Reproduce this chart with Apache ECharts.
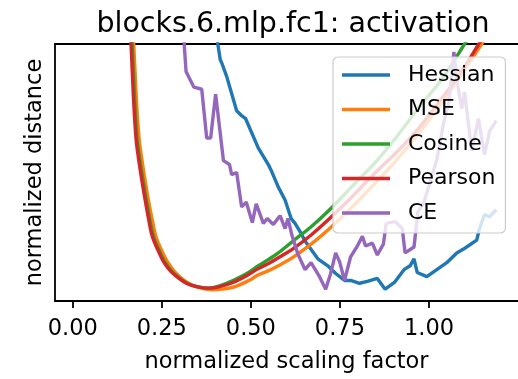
<!DOCTYPE html>
<html><head><meta charset="utf-8">
<script src="https://cdn.jsdelivr.net/npm/echarts@6/dist/echarts.min.js"></script>
<style>html,body{margin:0;padding:0;background:#fff}#c{width:518px;height:379px}</style>
</head><body><div id="c"></div>
<script>
var titleText = 'blocks.6.mlp.fc1: activation';
var xName = 'normalized scaling factor';
var yName = 'normalized distance';
var tickValues = [0, 0.25, 0.5, 0.75, 1.0];
var tickLabels = ['0.00', '0.25', '0.50', '0.75', '1.00'];
var seriesNames = ['Hessian', 'MSE', 'Cosine', 'Pearson', 'CE'];

var hessianX = [0.405,0.414,0.418,0.432,0.460,0.474,0.485,0.521,0.549,0.557,0.577,0.596,0.613,0.624,0.641,0.652,0.688,0.716,0.738,0.763,0.780,0.805,0.827,0.855,0.877,0.903,0.930,0.947,0.958,0.967,0.994,1.022,1.050,1.078,1.097,1.114,1.134,1.142,1.156,1.170,1.189];
var hessianY = [1.02,0.939,0.927,0.874,0.740,0.721,0.710,0.595,0.531,0.508,0.443,0.393,0.321,0.302,0.263,0.233,0.164,0.137,0.107,0.080,0.080,0.069,0.076,0.088,0.046,0.072,0.122,0.137,0.164,0.111,0.095,0.122,0.149,0.187,0.202,0.218,0.237,0.282,0.336,0.328,0.355];

var mseX = [0.165,0.171,0.178,0.186,0.194,0.204,0.214,0.224,0.233,0.25,0.267,0.287,0.31,0.333,0.36,0.39,0.42,0.46,0.50,0.521,0.55,0.577,0.62,0.67,0.721,0.78,0.85,0.91,0.97,1.03,1.09,1.148,1.18];
var mseY = [1.12,1.0,0.80,0.634,0.55,0.46,0.379,0.31,0.252,0.195,0.150,0.112,0.083,0.063,0.050,0.044,0.046,0.058,0.084,0.102,0.118,0.137,0.172,0.222,0.282,0.36,0.46,0.55,0.65,0.76,0.88,1.0,1.07];

var cosineX = [0.161,0.1665,0.173,0.18,0.188,0.198,0.208,0.217,0.226,0.243,0.259,0.278,0.30,0.322,0.352,0.383,0.41,0.45,0.49,0.521,0.55,0.577,0.62,0.67,0.721,0.78,0.85,0.91,0.97,1.04,1.10,1.13];
var cosineY = [1.12,1.0,0.80,0.634,0.55,0.46,0.379,0.31,0.252,0.195,0.150,0.115,0.088,0.068,0.055,0.050,0.058,0.080,0.108,0.137,0.162,0.187,0.235,0.29,0.355,0.44,0.54,0.64,0.75,0.87,1.0,1.06];

var pearsonX = [0.158,0.1635,0.17,0.1774,0.185,0.195,0.205,0.214,0.223,0.24,0.256,0.275,0.298,0.32,0.35,0.382,0.41,0.45,0.49,0.521,0.55,0.577,0.62,0.67,0.721,0.78,0.85,0.91,0.97,1.02,1.08,1.14,1.17];
var pearsonY = [1.12,1.0,0.80,0.634,0.55,0.46,0.379,0.31,0.252,0.195,0.150,0.115,0.088,0.068,0.055,0.050,0.055,0.072,0.100,0.126,0.146,0.168,0.205,0.258,0.321,0.40,0.50,0.58,0.67,0.76,0.87,1.0,1.07];

var ceX = [0.312,0.318,0.340,0.362,0.376,0.387,0.401,0.423,0.440,0.446,0.460,0.474,0.487,0.504,0.515,0.535,0.546,0.563,0.582,0.596,0.604,0.616,0.632,0.652,0.669,0.691,0.710,0.724,0.738,0.749,0.763,0.780,0.799,0.813,0.822,0.841,0.855,0.872,0.880,0.905,0.925,0.933,0.958,0.969,0.986,1.003,1.022,1.042,1.056,1.070,1.078,1.092,1.100,1.120,1.139,1.156,1.170,1.189];
var ceY = [1.015,0.893,0.832,0.824,0.634,0.634,0.805,0.546,0.531,0.492,0.500,0.366,0.385,0.305,0.378,0.302,0.321,0.298,0.332,0.282,0.321,0.252,0.183,0.122,0.149,0.099,0.046,0.107,0.187,0.153,0.080,0.172,0.214,0.252,0.214,0.225,0.179,0.221,0.302,0.309,0.282,0.187,0.210,0.347,0.385,0.462,0.550,0.698,0.775,0.969,0.863,0.748,0.813,0.584,0.710,0.569,0.660,0.702];

var colors = ['#1f77b4', '#ff7f0e', '#2ca02c', '#d62728', '#9467bd'];
var xs = [hessianX, mseX, cosineX, pearsonX, ceX];
var ys = [hessianY, mseY, cosineY, pearsonY, ceY];
var smoothFlags = [false, 0.35, 0.35, 0.35, false];

function zip(a, b) { return a.map(function (v, i) { return [v, b[i]]; }); }

var FONT = 'DejaVu Sans';
var chart = echarts.init(document.getElementById('c'), null, {renderer: 'canvas'});
var series = seriesNames.map(function (n, i) {
  return {
    name: n, type: 'line', data: zip(xs[i], ys[i]),
    showSymbol: false, symbol: 'none', smooth: smoothFlags[i],
    lineStyle: {color: colors[i], width: 3.4},
    itemStyle: {color: colors[i]},
    clip: true, z: 2 + i, animation: false
  };
});

chart.setOption({
  animation: false,
  backgroundColor: '#fff',
  title: {
    text: titleText, left: 288, top: 5, textAlign: 'center',
    textStyle: {fontFamily: FONT, fontSize: 28.5, fontWeight: 'normal', color: '#000'}
  },
  grid: {left: 55, right: -3, top: 44, bottom: 73, containLabel: false},
  legend: {
    data: seriesNames, orient: 'vertical', left: 333, top: 57,
    icon: 'rect', itemWidth: 48, itemHeight: 3.5, itemGap: 12.5,
    padding: [7, 10, 9, 9],
    backgroundColor: 'rgba(255,255,255,0.8)', borderColor: '#cccccc', borderWidth: 1.2, borderRadius: 5,
    textStyle: {fontFamily: FONT, fontSize: 22, color: '#000', padding: [0, 0, 0, 13]},
    z: 10
  },
  xAxis: [{
    type: 'value', min: -0.05, max: 1.25, position: 'bottom',
    name: xName, nameLocation: 'middle', nameGap: 50,
    nameTextStyle: {fontFamily: FONT, fontSize: 22.5, color: '#000'},
    axisLine: {show: true, onZero: false, lineStyle: {color: '#000', width: 1.8}},
    axisTick: {show: true, length: 7, lineStyle: {color: '#000', width: 1.8}, customValues: tickValues},
    axisLabel: {show: true, margin: 17, fontFamily: FONT, fontSize: 22.5, color: '#000',
      customValues: tickValues,
      formatter: function (v) { var k = tickValues.indexOf(v); return k >= 0 ? tickLabels[k] : ''; }},
    splitLine: {show: false}
  }, {
    type: 'value', min: -0.05, max: 1.25, position: 'top',
    axisLine: {show: true, onZero: false, lineStyle: {color: '#000', width: 1.8}},
    axisTick: {show: false}, axisLabel: {show: false}, splitLine: {show: false}
  }],
  yAxis: {
    type: 'value', min: 0, max: 1,
    name: yName, nameLocation: 'middle', nameGap: 8,
    nameTextStyle: {fontFamily: FONT, fontSize: 22.5, color: '#000'},
    axisLine: {show: true, onZero: false, lineStyle: {color: '#000', width: 1.8}},
    axisTick: {show: false}, axisLabel: {show: false}, splitLine: {show: false}
  },
  series: series
});
</script>
</body></html>
